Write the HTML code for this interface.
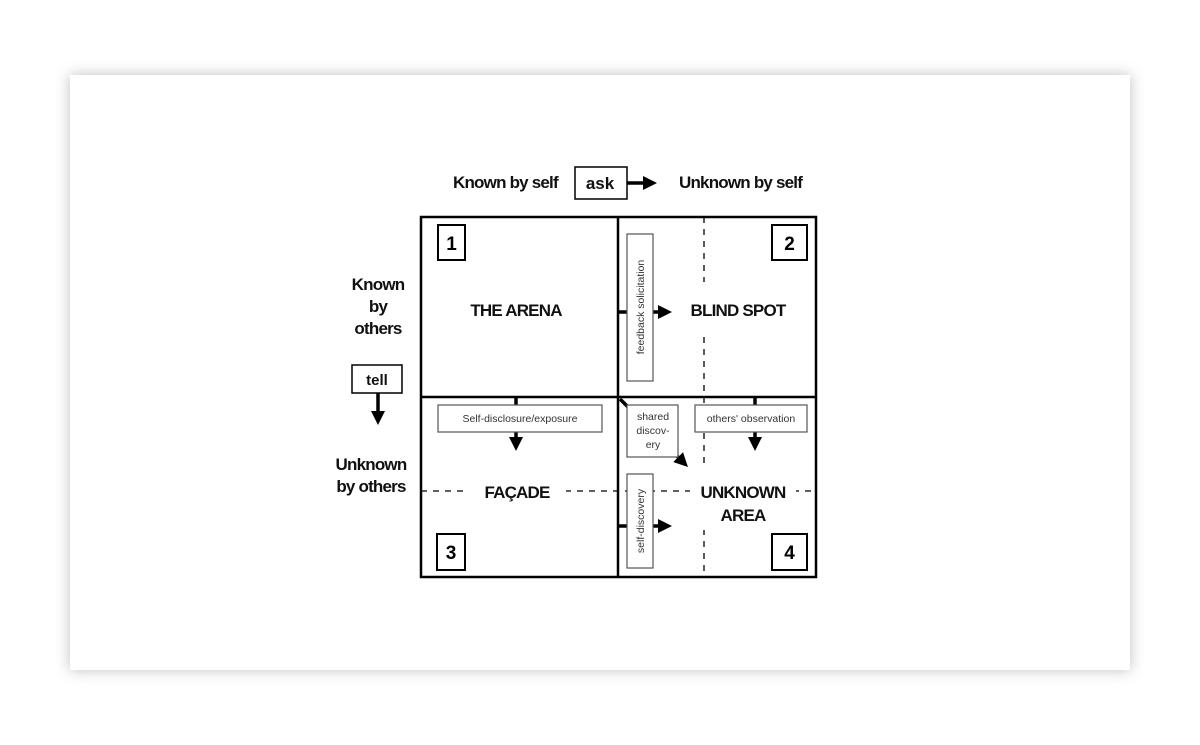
<!DOCTYPE html>
<html><head><style>
html,body{margin:0;padding:0;background:#fff;}
.card{position:absolute;left:70px;top:75px;width:1060px;height:595px;background:#fff;box-shadow:0 0 14px rgba(0,0,0,0.25);}
svg{position:absolute;left:0;top:0;}
.b{font-family:"Liberation Sans",sans-serif;font-weight:bold;font-size:17px;letter-spacing:-0.8px;fill:#111;}
.s{font-family:"Liberation Sans",sans-serif;font-size:10.5px;fill:#333;}
.n{font-family:"Liberation Sans",sans-serif;font-weight:bold;font-size:19px;fill:#000;}
</style></head><body>
<div class="card"></div>
<svg width="1200" height="745" viewBox="0 0 1200 745">
<defs><marker id="a" markerWidth="4" markerHeight="4" refX="2" refY="2" orient="auto" markerUnits="strokeWidth"><path d="M0,0L4,2L0,4z" fill="#000"/></marker></defs>
<g fill="none" stroke="#000">
<line x1="704" y1="217" x2="704" y2="577" stroke-width="1.3" stroke-dasharray="6,6"/>
<line x1="421" y1="491" x2="816" y2="491" stroke-width="1.3" stroke-dasharray="6,6"/>
</g>
<g fill="#fff">
<rect x="685" y="282" width="105" height="52"/>
<rect x="468" y="478" width="98" height="28"/>
<rect x="690" y="465" width="106" height="65"/>
</g>
<g class="b">
<text x="453" y="188">Known by self</text>
<text x="679" y="188">Unknown by self</text>
<text x="378" y="290" text-anchor="middle">Known</text>
<text x="378" y="312" text-anchor="middle">by</text>
<text x="378" y="334" text-anchor="middle">others</text>
<text x="371" y="470" text-anchor="middle">Unknown</text>
<text x="371" y="492" text-anchor="middle">by others</text>
<text x="516" y="316" text-anchor="middle">THE ARENA</text>
<text x="738" y="316" text-anchor="middle">BLIND SPOT</text>
<text x="517" y="498" text-anchor="middle">FAÇADE</text>
<text x="743" y="498" text-anchor="middle">UNKNOWN</text>
<text x="743" y="521" text-anchor="middle">AREA</text>
</g>
<g fill="none" stroke="#000">
<rect x="575" y="167" width="52" height="32" stroke-width="1.5"/>
<rect x="352" y="365" width="50" height="28" stroke-width="1.5"/>
<rect x="421" y="217" width="395" height="360" stroke-width="2.5"/>
<line x1="618" y1="217" x2="618" y2="577" stroke-width="2.5"/>
<line x1="421" y1="397" x2="816" y2="397" stroke-width="2.5"/>
<rect x="438" y="225" width="27" height="35" stroke-width="2"/>
<rect x="772" y="225" width="35" height="35" stroke-width="2"/>
<rect x="437" y="534" width="28" height="36" stroke-width="2"/>
<rect x="772" y="534" width="35" height="36" stroke-width="2"/>
<line x1="627" y1="183" x2="650" y2="183" stroke-width="3.5" marker-end="url(#a)"/>
<line x1="378" y1="393" x2="378" y2="418" stroke-width="3.5" marker-end="url(#a)"/>
<line x1="618" y1="312" x2="665" y2="312" stroke-width="3.5" marker-end="url(#a)"/>
<line x1="516" y1="397" x2="516" y2="444" stroke-width="3.5" marker-end="url(#a)"/>
<line x1="755" y1="397" x2="755" y2="444" stroke-width="3.5" marker-end="url(#a)"/>
<line x1="618" y1="526" x2="665" y2="526" stroke-width="3.5" marker-end="url(#a)"/>
<line x1="620" y1="399" x2="683" y2="462" stroke-width="3.5" marker-end="url(#a)"/>
</g>
<g fill="#fff" stroke="#555" stroke-width="1.2">
<rect x="627" y="234" width="26" height="147"/>
<rect x="438" y="405" width="164" height="27"/>
<rect x="627" y="405" width="51" height="52"/>
<rect x="695" y="405" width="112" height="27"/>
<rect x="627" y="474" width="26" height="94"/>
</g>
<g class="n" text-anchor="middle">
<text x="451.5" y="250">1</text>
<text x="789.5" y="250">2</text>
<text x="451" y="559">3</text>
<text x="789.5" y="559">4</text>
</g>
<text x="600" y="189" text-anchor="middle" class="b" style="letter-spacing:0">ask</text>
<text x="377" y="385" text-anchor="middle" class="b" style="font-size:15px;letter-spacing:0">tell</text>
<g class="s">
<text x="520" y="422" text-anchor="middle">Self-disclosure/exposure</text>
<text x="751" y="422" text-anchor="middle">others' observation</text>
<text x="653" y="420" text-anchor="middle">shared</text>
<text x="653" y="434" text-anchor="middle">discov-</text>
<text x="653" y="448" text-anchor="middle">ery</text>
<text transform="translate(644,307) rotate(-90)" text-anchor="middle">feedback solicitation</text>
<text transform="translate(644,521) rotate(-90)" text-anchor="middle">self-discovery</text>
</g>
</svg>
</body></html>
